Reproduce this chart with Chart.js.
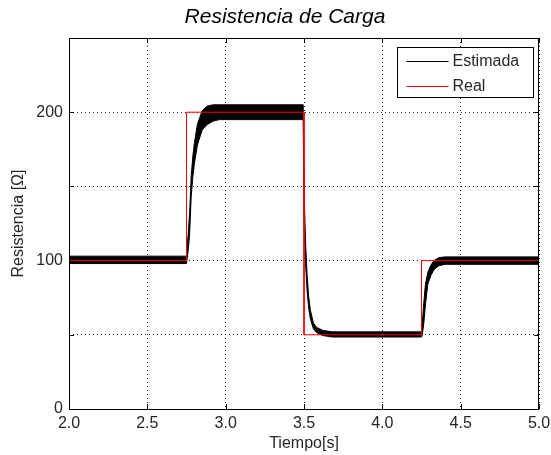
<!DOCTYPE html>
<html>
<head>
<meta charset="utf-8">
<title>Resistencia de Carga</title>
<script src="https://cdn.jsdelivr.net/npm/chart.js@4/dist/chart.umd.min.js"></script>
<style>
  html, body { margin: 0; padding: 0; background: #fff; }
</style>
</head>
<body>
<canvas id="myChart" width="551" height="455"></canvas>
<script>
// Real load resistance (step reference)
const realT = [2.0, 2.75, 2.75, 3.5, 3.5, 4.25, 4.25, 5.0];
const realR = [100, 100, 200, 200, 50, 50, 100, 100];

// Estimated resistance: upper and lower edge of the ripple band
const estT = [2.0, 2.75, 2.76, 2.77, 2.78, 2.79, 2.80, 2.82, 2.85, 2.88, 2.92, 2.96,
              3.495, 3.50, 3.51, 3.52, 3.53, 3.54, 3.56, 3.58, 3.62, 3.68,
              4.25, 4.255, 4.265, 4.275, 4.29, 4.31, 4.33, 4.36, 4.40, 5.0];
const estUpper = [103, 103, 117, 132, 157, 170, 179, 192, 201, 204, 205, 205,
                  205, 150, 112, 90, 76, 67, 58, 55, 53, 52,
                  52, 58, 72, 84, 92, 97, 100, 102, 102.5, 102.5];
const estLower = [98, 98, 106, 118, 143, 156, 165, 178, 188, 191.5, 194, 195,
                  195, 128, 98, 79, 68, 61, 54, 51.5, 49.5, 48.5,
                  48.5, 50, 58, 70, 84, 90, 94, 96.5, 97.5, 97.5];

// Axis ticks
const xTicks = [2.0, 2.5, 3.0, 3.5, 4.0, 4.5, 5.0];
const yTicks = [0, 50, 100, 150, 200, 250];
const yLabeled = [0, 100, 200];
const legendOrder = ['Estimada', 'Real'];

const FONT = "'Liberation Sans', Arial, Helvetica, sans-serif";
const TEXT = '#262626';

function toPoints(xs, ys) {
    return xs.map((x, i) => ({ x: x, y: ys[i] }));
}

// box, inward ticks, legend and title drawn the matlab way
const matlabAxes = {
    id: 'matlabAxes',
    afterDraw(chart) {
        const ctx = chart.ctx;
        const a = chart.chartArea;
        const xs = chart.scales.x;
        const ys = chart.scales.y;
        ctx.save();

        // frame
        ctx.strokeStyle = '#000';
        ctx.lineWidth = 1;
        ctx.strokeRect(Math.round(a.left) + 0.5, Math.round(a.top) + 0.5,
                       Math.round(a.right - a.left) - 1, Math.round(a.bottom - a.top));

        // tick marks pointing inwards
        const tl = 5;
        ctx.beginPath();
        xTicks.forEach(v => {
            const px = Math.round(xs.getPixelForValue(v)) + 0.5;
            ctx.moveTo(px, a.bottom); ctx.lineTo(px, a.bottom - tl);
            ctx.moveTo(px, a.top); ctx.lineTo(px, a.top + tl);
        });
        yTicks.forEach(v => {
            const py = Math.round(ys.getPixelForValue(v)) + 0.5;
            ctx.moveTo(a.left, py); ctx.lineTo(a.left + tl, py);
            ctx.moveTo(a.right, py); ctx.lineTo(a.right - tl, py);
        });
        ctx.stroke();

        // legend box, top right inside the axes
        const items = legendOrder.map(name => chart.data.datasets.find(d => d.label === name));
        const bw = 136, rowH = 25;
        const bh = items.length * rowH;
        const bx = Math.round(a.right - 6 - bw) + 0.5;
        const by = Math.round(a.top + 9) + 0.5;
        ctx.fillStyle = '#fff';
        ctx.fillRect(bx, by, bw, bh);
        ctx.strokeStyle = '#000';
        ctx.strokeRect(bx, by, bw, bh);
        ctx.font = '16px ' + FONT;
        ctx.textBaseline = 'middle';
        items.forEach((d, i) => {
            const cy = Math.round(by + 13 + i * rowH) + 0.5;
            ctx.strokeStyle = d.borderColor;
            ctx.lineWidth = 1;
            ctx.beginPath();
            ctx.moveTo(bx + 9, cy);
            ctx.lineTo(bx + 51, cy);
            ctx.stroke();
            ctx.fillStyle = TEXT;
            ctx.fillText(d.label, bx + 55, cy);
        });

        // title
        ctx.font = 'italic 21px ' + FONT;
        ctx.fillStyle = '#000';
        ctx.textAlign = 'center';
        ctx.fillText('Resistencia de Carga', 285, 17);
        ctx.restore();
    }
};

const ctx = document.getElementById('myChart').getContext('2d');
const myChart = new Chart(ctx, {
    type: 'line',
    plugins: [matlabAxes],
    data: {
        datasets: [{
            label: 'Real',
            data: toPoints(realT, realR),
            borderColor: '#ff0000',
            borderWidth: 1,
            pointRadius: 0,
            fill: false,
            order: 0
        }, {
            label: 'Estimada',
            data: toPoints(estT, estUpper),
            borderColor: '#000000',
            backgroundColor: '#000000',
            borderWidth: 1,
            pointRadius: 0,
            fill: '+1',
            order: 1
        }, {
            label: '_estLower',
            data: toPoints(estT, estLower),
            borderColor: '#000000',
            borderWidth: 1,
            pointRadius: 0,
            fill: false,
            order: 2
        }]
    },
    options: {
        responsive: false,
        animation: false,
        layout: { padding: { top: 38, right: 12, left: 0, bottom: 0 } },
        plugins: {
            legend: { display: false },
            tooltip: { enabled: false },
            title: { display: false }
        },
        scales: {
            x: {
                type: 'linear',
                min: 2, max: 5,
                afterFit: s => { s.height = 46; s.paddingLeft = 0; s.paddingRight = 0; },
                afterBuildTicks: s => { s.ticks = xTicks.map(v => ({ value: v })); },
                ticks: {
                    padding: 5,
                    color: TEXT,
                    font: { family: FONT, size: 16 },
                    maxRotation: 0,
                    callback: v => Number(v).toFixed(1)
                },
                grid: { color: '#222', drawTicks: false },
                border: { display: false, dash: [1, 3] },
                title: {
                    display: true,
                    text: 'Tiempo[s]',
                    color: TEXT,
                    font: { family: FONT, size: 16 },
                    padding: { top: 0, bottom: 2 }
                }
            },
            y: {
                min: 0, max: 250,
                afterFit: s => { s.width = 69; s.paddingTop = 0; s.paddingBottom = 0; },
                afterBuildTicks: s => { s.ticks = yTicks.map(v => ({ value: v })); },
                ticks: {
                    padding: 6,
                    color: TEXT,
                    font: { family: FONT, size: 16 },
                    callback: v => yLabeled.includes(v) ? String(v) : ''
                },
                grid: { color: '#222', drawTicks: false },
                border: { display: false, dash: [1, 3] },
                title: {
                    display: true,
                    text: 'Resistencia [Ω]',
                    color: TEXT,
                    font: { family: FONT, size: 16 },
                    padding: { top: 9, bottom: 0 }
                }
            }
        }
    }
});
</script>
</body>
</html>
